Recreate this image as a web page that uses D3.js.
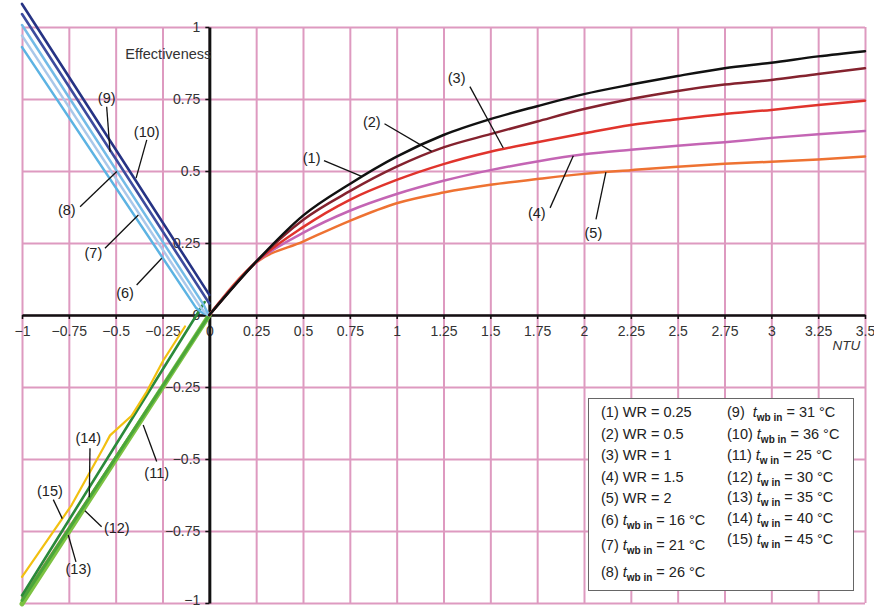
<!DOCTYPE html>
<html>
<head>
<meta charset="utf-8">
<script src="https://cdn.jsdelivr.net/npm/d3@7"></script>
<style>
  body { margin: 0; background: #fff; }
  svg { display: block; }
  text { font-family: "Liberation Sans", Arial, Helvetica, sans-serif; }
</style>
</head>
<body>
<svg id="chart" width="874" height="607"></svg>
<script>
// ---- Effectiveness vs NTU for several water/air ratios (right half) ----
const ntu   = [0, 0.25, 0.5, 0.75, 1, 1.25, 1.5, 1.75, 2, 2.25, 2.5, 2.75, 3, 3.25, 3.5];
const wr025 = [0, 0.185, 0.345, 0.455, 0.55, 0.625, 0.68, 0.725, 0.767, 0.80, 0.83, 0.857, 0.876, 0.898, 0.916];
const wr05  = [0, 0.185, 0.33, 0.43, 0.515, 0.582, 0.628, 0.672, 0.715, 0.75, 0.778, 0.80, 0.816, 0.837, 0.857];
const wr1   = [0, 0.184, 0.305, 0.40, 0.469, 0.524, 0.567, 0.60, 0.631, 0.66, 0.68, 0.698, 0.712, 0.729, 0.744];
const wr15  = [0, 0.183, 0.285, 0.362, 0.42, 0.466, 0.503, 0.533, 0.558, 0.574, 0.588, 0.60, 0.615, 0.628, 0.639];
const wr2   = [0, 0.182, 0.255, 0.327, 0.388, 0.425, 0.452, 0.472, 0.49, 0.503, 0.515, 0.525, 0.532, 0.54, 0.55];

// ---- wet-bulb inlet temperature lines (upper left) ----
const twb16X = [-1, -0.07, -0.04, -0.018, 0];
const twb16Y = [0.93, 0.024, 0.009, 0.003, 0];
const twb21X = [-1, -0.05, -0.027, -0.01, 0];
const twb21Y = [0.97, 0.03, 0.011, 0.003, 0];
const twb26X = [-1, -0.03, -0.013, 0];
const twb26Y = [1.007, 0.035, 0.012, 0];
const twb31X = [-1, 0];
const twb31Y = [1.045, 0.04];
const twb36X = [-1, 0];
const twb36Y = [1.08, 0.07];

// ---- water inlet temperature lines (lower left) ----
const tw25X = [-1, 0];
const tw25Y = [-1.003, 0];
const tw30X = [-1, 0];
const tw30Y = [-0.982, 0];
const tw35X = [-1, 0];
const tw35Y = [-0.991, 0];
const tw40X = [-1, -0.025];
const tw40Y = [-0.974, 0.045];
const tw45X = [-1, -0.735, -0.566, -0.53, -0.415, -0.334, -0.246, -0.13];
const tw45Y = [-0.909, -0.66, -0.462, -0.418, -0.35, -0.266, -0.158, -0.04];

// ---- ticks ----
const xTicks = d3.range(-1, 3.5001, 0.25);
const xTickLabels = ["\u22121", "\u22120.75", "\u22120.5", "\u22120.25", "0", "0.25", "0.5", "0.75", "1",
  "1.25", "1.5", "1.75", "2", "2.25", "2.5", "2.75", "3", "3.25", "3.5"];
const yTicks = d3.range(-1, 1.0001, 0.25);
const yTickLabels = ["\u22121", "\u22120.75", "\u22120.5", "\u22120.25", "0", "0.25", "0.5", "0.75", "1"];

// ---- legend ----
const legendNums = ["(1)", "(2)", "(3)", "(4)", "(5)", "(6)", "(7)", "(8)", "(9)", "(10)", "(11)", "(12)", "(13)", "(14)", "(15)"];
const wrValues = ["0.25", "0.5", "1", "1.5", "2"];
const twbValues = [16, 21, 26, 31, 36];
const twValues = [25, 30, 35, 40, 45];

const svg = d3.select("#chart");
const x = d3.scaleLinear().domain([-1, 3.5]).range([22, 865]);
const y = d3.scaleLinear().domain([-1, 1]).range([603, 27]);
const grid = "#de9ac0";

// background grid
svg.append("g")
  .attr("transform", `translate(0,${y(-1)})`)
  .call(d3.axisBottom(x).tickValues(xTicks).tickSize(-(y(-1) - y(1))).tickFormat(""))
  .call(g => { g.select(".domain").remove(); g.selectAll("line").attr("stroke", grid).attr("stroke-width", 2); });
svg.append("g")
  .attr("transform", `translate(${x(-1)},0)`)
  .call(d3.axisLeft(y).tickValues(yTicks).tickSize(-(x(3.5) - x(-1))).tickFormat(""))
  .call(g => { g.select(".domain").remove(); g.selectAll("line").attr("stroke", grid).attr("stroke-width", 2); });

// axes through the origin
const xAxis = svg.append("g")
  .attr("transform", `translate(0,${y(0)})`)
  .call(d3.axisBottom(x).tickValues(xTicks).tickSize(4).tickSizeOuter(0).tickPadding(7)
    .tickFormat((d, i) => xTickLabels[i]));
xAxis.select(".domain").attr("stroke", "#111").attr("stroke-width", 2.6);
xAxis.selectAll("line").attr("stroke", "#111").attr("stroke-width", 1.5);
xAxis.selectAll("text").attr("font-size", 14).attr("fill", "#333");

const yAxis = svg.append("g")
  .attr("transform", `translate(${x(0)},0)`)
  .call(d3.axisLeft(y).tickValues(yTicks).tickSize(4).tickSizeOuter(0).tickPadding(5)
    .tickFormat((d, i) => yTickLabels[i]));
yAxis.select(".domain").attr("stroke", "#111").attr("stroke-width", 3);
yAxis.selectAll("line").attr("stroke", "#111").attr("stroke-width", 1.5);
yAxis.selectAll("text").attr("font-size", 14).attr("fill", "#333");
// keep the bottom label inside the frame
yAxis.selectAll(".tick").filter(d => d === -1).select("text").attr("dy", "0.1em");

svg.append("text").attr("x", x(0) + 2).attr("y", y(0.89)).attr("text-anchor", "end")
  .attr("font-size", 14.5).attr("fill", "#333").text("Effectiveness");
svg.append("text").attr("x", x(3.4)).attr("y", y(-0.12)).attr("text-anchor", "middle")
  .attr("font-size", 13.5).attr("font-style", "italic").attr("fill", "#333").text("NTU");

// curves
const smooth = d3.line().x(d => x(d[0])).y(d => y(d[1])).curve(d3.curveMonotoneX);
const straight = d3.line().x(d => x(d[0])).y(d => y(d[1]));
const pairs = (xs, ys) => xs.map((v, i) => [v, ys[i]]);
const series = [
  { xs: tw30X, ys: tw30Y, color: "#a58d50", w: 1.6 },
  { xs: tw25X, ys: tw25Y, color: "#7cc242", w: 5 },
  { xs: tw35X, ys: tw35Y, color: "#4aa63a", w: 3 },
  { xs: tw40X, ys: tw40Y, color: "#2a8a3a", w: 2.6 },
  { xs: tw45X, ys: tw45Y, color: "#f2c010", w: 2.2 },
  { xs: twb16X, ys: twb16Y, color: "#5cb3e3", w: 2.5 },
  { xs: twb21X, ys: twb21Y, color: "#a9c8ea", w: 2.5 },
  { xs: twb26X, ys: twb26Y, color: "#74bbe7", w: 2.5 },
  { xs: twb31X, ys: twb31Y, color: "#3d4c9e", w: 2.6 },
  { xs: twb36X, ys: twb36Y, color: "#263384", w: 2.6 },
  { xs: ntu, ys: wr2, color: "#ee7232", w: 2.5, smooth: true },
  { xs: ntu, ys: wr15, color: "#c465b4", w: 2.5, smooth: true },
  { xs: ntu, ys: wr1, color: "#e0342c", w: 2.5, smooth: true },
  { xs: ntu, ys: wr05, color: "#84222e", w: 2.5, smooth: true },
  { xs: ntu, ys: wr025, color: "#111111", w: 2.5, smooth: true }
];
svg.append("g").selectAll("path").data(series).join("path")
  .attr("d", s => (s.smooth ? smooth : straight)(pairs(s.xs, s.ys)))
  .attr("fill", "none").attr("stroke", s => s.color).attr("stroke-width", s => s.w)
  .attr("stroke-linejoin", "round").attr("stroke-linecap", "round");

// callout labels: [label, text x, text y, leader from x, y, leader to x, y] in data units
const callouts = [
  ["(1)", 0.546, 0.544, 0.612, 0.536, 0.813, 0.481],
  ["(2)", 0.867, 0.671, 0.935, 0.664, 1.187, 0.568],
  ["(3)", 1.320, 0.822, 1.391, 0.793, 1.569, 0.580],
  ["(4)", 1.748, 0.353, 1.819, 0.372, 1.943, 0.553],
  ["(5)", 2.050, 0.284, 2.064, 0.332, 2.117, 0.496],
  ["(6)", -0.450, 0.075, -0.388, 0.104, -0.254, 0.197],
  ["(7)", -0.619, 0.214, -0.557, 0.232, -0.379, 0.347],
  ["(8)", -0.761, 0.365, -0.690, 0.376, -0.494, 0.498],
  ["(9)", -0.548, 0.752, -0.548, 0.723, -0.530, 0.567],
  ["(10)", -0.334, 0.636, -0.334, 0.608, -0.391, 0.475],
  ["(11)", -0.281, -0.550, -0.281, -0.509, -0.353, -0.382],
  ["(12)", -0.494, -0.741, -0.575, -0.735, -0.664, -0.680],
  ["(13)", -0.699, -0.883, -0.712, -0.857, -0.753, -0.764],
  ["(14)", -0.646, -0.428, -0.637, -0.463, -0.641, -0.633],
  ["(15)", -0.851, -0.612, -0.833, -0.641, -0.785, -0.707]
];
const cg = svg.append("g");
cg.selectAll("line").data(callouts).join("line")
  .attr("x1", d => x(d[3])).attr("y1", d => y(d[4]))
  .attr("x2", d => x(d[5])).attr("y2", d => y(d[6]))
  .attr("stroke", "#111").attr("stroke-width", 1.3);
cg.selectAll("text").data(callouts).join("text")
  .attr("x", d => x(d[1])).attr("y", d => y(d[2]))
  .attr("dy", "0.35em").attr("text-anchor", "middle")
  .attr("font-size", 14.5).attr("fill", "#222").text(d => d[0]);

// legend
const lg = svg.append("g");
lg.append("rect").attr("x", 588.5).attr("y", 398.5).attr("width", 265).attr("height", 192)
  .attr("fill", "#fff").attr("stroke", "#666").attr("stroke-width", 1);
const col1Y = [417, 438.5, 460, 482, 503, 525, 550, 577];
const col2Y = [417, 438.5, 460, 482, 502, 523, 543.5];
legendNums.forEach((num, i) => {
  const col = i < 8 ? 0 : 1;
  const t = lg.append("text")
    .attr("x", col === 0 ? 601 : 727)
    .attr("y", col === 0 ? col1Y[i] : col2Y[i - 8])
    .attr("font-size", 14.5).attr("fill", "#222");
  if (i < 5) {
    t.text(`${num} WR = ${wrValues[i]}`);
    return;
  }
  const isWb = i < 10;
  const val = isWb ? twbValues[i - 5] : twValues[i - 10];
  t.append("tspan").text(num + (i === 8 ? "\u00a0\u00a0" : " "));
  t.append("tspan").attr("font-style", "italic").text("t");
  t.append("tspan").attr("font-size", 10).attr("font-weight", "bold").attr("dy", 4)
    .text(isWb ? "wb in" : "w in");
  t.append("tspan").attr("dy", -4).text(` = ${val} \u00b0C`);
});
</script>
</body>
</html>
